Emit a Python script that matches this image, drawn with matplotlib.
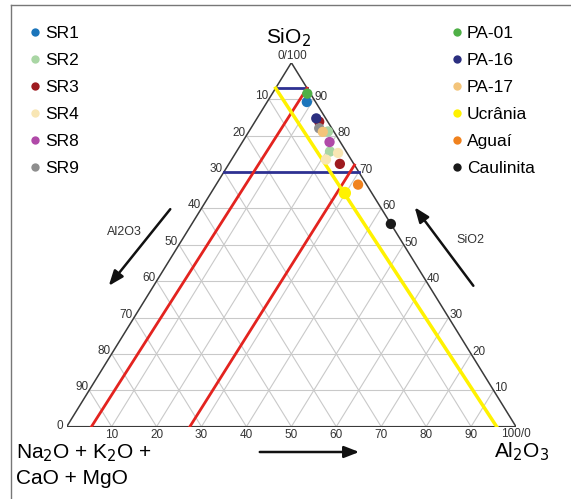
import matplotlib
matplotlib.use("Agg")
import matplotlib.pyplot as plt
from matplotlib.lines import Line2D

plt.rcParams['font.family'] = ['Liberation Sans', 'DejaVu Sans']

# ---------------- data (SiO2 %, Al2O3 %; flux = remainder) ----------------
series_names = ["SR1", "SR2", "SR3", "SR4", "SR8", "SR9",
                "PA-01", "PA-16", "PA-17", "Ucrânia", "Aguaí", "Caulinita"]
sio2_values = [[89.2], [81.1, 75.6], [83.8, 72.2], [75.2, 73.4], [78.2], [82.0],
               [91.5], [84.7], [81.0], [64.2], [66.5], [55.7]]
al2o3_values = [[8.85], [17.6, 20.8], [14.3, 24.7], [22.8, 21.0], [19.4], [15.2],
                [7.8], [13.2], [16.5], [29.8], [31.6], [44.3]]

# reference lines: (SiO2, Al2O3) start and end
blue_sio2 = [93, 70]
red_start = [(0, 5.5), (0, 27.4)]
red_end = [(93, 7.0), (71.9, 28.1)]
yellow_start = (93, 0)
yellow_end = (0, 95.7)

grid_values = [10, 20, 30, 40, 50, 60, 70, 80, 90]

colors = ["#1b75bb", "#a9d6a4", "#9e1b20", "#f8e6b4", "#b04aa8", "#8e8e8e",
          "#4fb047", "#2b2f80", "#f3c47a", "#fff200", "#f0821e", "#1a1a1a"]


def tx(s, a):
    """ternary (SiO2, Al2O3) -> cartesian"""
    return a + s / 2.0


# ---------------- figure ----------------
W, H = 571, 499
fig = plt.figure(figsize=(W / 100, H / 100), dpi=100)
x0, y0b, x1, y1t = 66.7, 426.7, 516.0, 62.7
ax = fig.add_axes([x0 / W, (H - y0b) / H, (x1 - x0) / W, (y0b - y1t) / H])
ax.set_xlim(0, 100)
ax.set_ylim(0, 100)
ax.axis('off')

grid_kw = dict(color="#c9c9c9", lw=0.8, zorder=1)
for v in grid_values:
    # constant SiO2
    ax.plot([tx(v, 0), tx(v, 100 - v)], [v, v], **grid_kw)
    # constant Al2O3
    ax.plot([tx(0, v), tx(100 - v, v)], [0, 100 - v], **grid_kw)
    # constant flux
    ax.plot([tx(0, 100 - v), tx(100 - v, 0)], [0, 100 - v], **grid_kw)

# triangle edges
ax.plot([tx(0, 0), tx(0, 100), tx(100, 0), tx(0, 0)], [0, 0, 100, 0],
        color="#3a3a3a", lw=1.1, zorder=2, solid_joinstyle='miter')

# reference lines
for s in blue_sio2:
    ax.plot([tx(s, 0), tx(s, 100 - s)], [s, s], color="#2e3192", lw=2, zorder=3)
for (s0, a0), (s1, a1) in zip(red_start, red_end):
    ax.plot([tx(s0, a0), tx(s1, a1)], [s0, s1], color="#e3231f", lw=2, zorder=3)
ax.plot([tx(*yellow_start), tx(*yellow_end)], [yellow_start[0], yellow_end[0]],
        color="#fff200", lw=2.5, zorder=3)

# points
handles = {}
for name, ss, aa, c in zip(series_names, sio2_values, al2o3_values, colors):
    size = 80 if name == "Ucrânia" else 55
    ax.scatter([tx(s, a) for s, a in zip(ss, aa)], ss, s=size, color=c,
               edgecolors='none', zorder=5, clip_on=False)
    handles[name] = Line2D([], [], ls='none', marker='o', markersize=6,
                           markerfacecolor=c, markeredgecolor='none')

# tick labels
tk = dict(fontsize=8.5, color="#333333", annotation_clip=False)
for v in grid_values:
    ax.annotate(str(v), (tx(0, v), 0), xytext=(0, -8), textcoords='offset pixels',
                ha='center', va='center', **tk)
    ax.annotate(str(v), (tx(v, 100 - v), v), xytext=(1, 2), textcoords='offset pixels',
                ha='left', va='center', **tk)
    ax.annotate(str(v), (tx(100 - v, 0), 100 - v), xytext=(-1, 3), textcoords='offset pixels',
                ha='right', va='center', **tk)
ax.annotate("0", (tx(0, 0), 0), xytext=(-7, 1), textcoords='offset pixels',
            ha='center', va='center', **tk)
ax.annotate("100/0", (tx(0, 100), 0), xytext=(0, -7), textcoords='offset pixels',
            ha='center', va='center', **tk)
ax.annotate("0/100", (tx(100, 0), 100), xytext=(1, 7), textcoords='offset pixels',
            ha='center', va='center', **tk)

# corner labels
fig.text(288 / W, 1 - 38 / H, "SiO$_2$", fontsize=15, ha='center', va='center')
fig.text(522 / W, 1 - 452 / H, "Al$_2$O$_3$", fontsize=15, ha='center', va='center')
fig.text(16 / W, 1 - 453 / H, "Na$_2$O + K$_2$O +", fontsize=15, ha='left', va='center')
fig.text(16 / W, 1 - 478 / H, "CaO + MgO", fontsize=15, ha='left', va='center')

# side labels and arrows
fig.text(124 / W, 1 - 232 / H, "Al2O3", fontsize=9, color="#333333", ha='center', va='center')
fig.text(470 / W, 1 - 240 / H, "SiO2", fontsize=9, color="#333333", ha='center', va='center')
arrow_kw = dict(arrowstyle='-|>,head_length=0.9,head_width=0.35', color='#111111', lw=1.8)
ax.annotate("", xy=(107, H - 288), xycoords='figure pixels',
            xytext=(172, H - 207), textcoords='figure pixels', arrowprops=arrow_kw)
ax.annotate("", xy=(413, H - 205), xycoords='figure pixels',
            xytext=(475, H - 288), textcoords='figure pixels', arrowprops=arrow_kw)
ax.annotate("", xy=(362, H - 452), xycoords='figure pixels',
            xytext=(257, H - 452), textcoords='figure pixels', arrowprops=arrow_kw)

# legends
left_names = series_names[:6]
right_names = series_names[6:]
leg_kw = dict(frameon=False, fontsize=12.5, handletextpad=0.1, labelspacing=0.68,
              handlelength=1.0, borderaxespad=0, borderpad=0)
leg1 = fig.legend([handles[n] for n in left_names], left_names,
                  loc='upper left', bbox_to_anchor=(26 / W, 1 - 26 / H), **leg_kw)
leg2 = fig.legend([handles[n] for n in right_names], right_names,
                  loc='upper left', bbox_to_anchor=(448 / W, 1 - 26 / H), **leg_kw)

# frame lines (left and top)
fig.add_artist(Line2D([11 / W, 11 / W], [0, 1 - 5 / H], transform=fig.transFigure,
                      color="#777777", lw=1))
fig.add_artist(Line2D([11 / W, 1], [1 - 5 / H, 1 - 5 / H], transform=fig.transFigure,
                      color="#777777", lw=1))

fig.savefig("out.png", dpi=100)
